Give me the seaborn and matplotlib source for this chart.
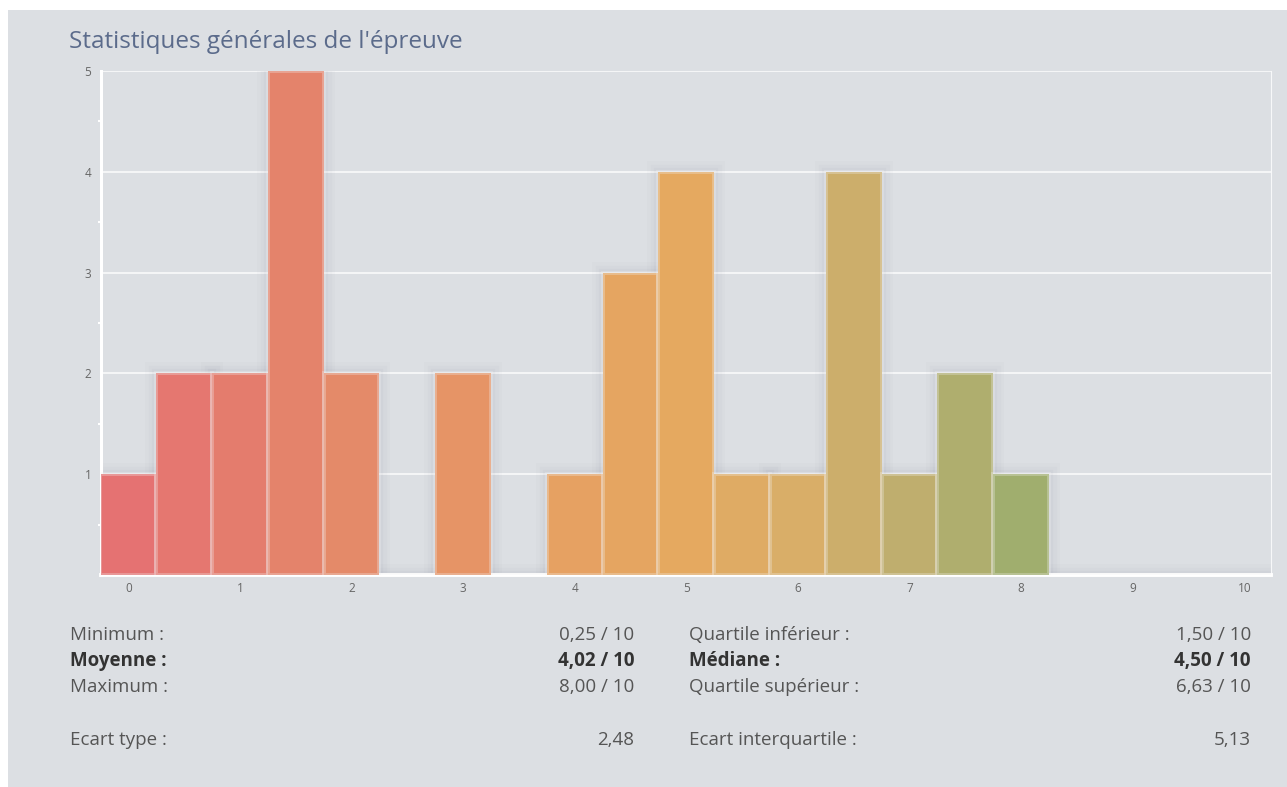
import matplotlib
matplotlib.use("Agg")
import matplotlib.pyplot as plt
from matplotlib.colors import LinearSegmentedColormap
from matplotlib.patches import Rectangle
import numpy as np
import pandas as pd
import seaborn as sns

# Score bins (half-point steps) and number of students per bin
notes = [0, 0.5, 1, 1.5, 2, 2.5, 3, 3.5, 4, 4.5, 5, 5.5, 6, 6.5, 7, 7.5, 8, 8.5, 9, 9.5, 10]
effectifs = [1, 2, 2, 5, 2, 0, 2, 0, 1, 3, 4, 1, 1, 4, 1, 2, 1, 0, 0, 0, 0]

x_ticks = [0, 1, 2, 3, 4, 5, 6, 7, 8, 9, 10]
y_ticks = [1, 2, 3, 4, 5]

titre = "Statistiques générales de l'épreuve"

# Summary statistics, left and right columns
stats_gauche = ["Minimum :", "Moyenne :", "Maximum :", "Ecart type :"]
valeurs_gauche = ["0,25 / 10", "4,02 / 10", "8,00 / 10", "2,48"]
stats_droite = ["Quartile inférieur :", "Médiane :", "Quartile supérieur :", "Ecart interquartile :"]
valeurs_droite = ["1,50 / 10", "4,50 / 10", "6,63 / 10", "5,13"]
ligne_grasse = [False, True, False, False]

W, H = 1287, 787
BG = "#dcdfe3"

sns.set_theme(style="white")
plt.rcParams["font.family"] = ["Open Sans", "DejaVu Sans"]

fig = plt.figure(figsize=(W / 100, H / 100), dpi=100, facecolor=BG)


def fx(px):
    return px / W


def fy(py):
    return 1 - py / H


# thin white page margin on the top and left edges
fig.patches.append(Rectangle((0, fy(10)), 1, 10 / H, transform=fig.transFigure,
                             facecolor="white", edgecolor="none", zorder=-5))
fig.patches.append(Rectangle((0, 0), 8 / W, 1, transform=fig.transFigure,
                             facecolor="white", edgecolor="none", zorder=-5))

ax = fig.add_axes([fx(101), fy(575), fx(1271) - fx(101), fy(71) - fy(575)])
ax.set_facecolor(BG)

# Red -> orange -> green gradient following the score
grad = LinearSegmentedColormap.from_list("notes", [
    (0.0, "#e57272"), (0.1, "#e47c6d"), (0.2, "#e48a69"), (0.3, "#e69466"),
    (0.4, "#e6a162"), (0.5, "#e5a960"), (0.6, "#d9ae68"), (0.7, "#c0ae6e"),
    (0.8, "#a0ae6e"), (1.0, "#72a86a")])

df = pd.DataFrame({"note": notes, "effectif": effectifs})

# Soft halo behind the bars
for lw, a in [(16, 0.016), (11, 0.02), (6, 0.026)]:
    ax.bar(df["note"], df["effectif"], width=0.5, color="none",
           edgecolor=(0.2, 0.2, 0.3, a), linewidth=lw, zorder=1)

sns.barplot(data=df, x="note", y="effectif", native_scale=True, width=1.0,
            errorbar=None, ax=ax, zorder=3)
for p in ax.patches:
    if p.get_zorder() != 3:
        continue
    centre = p.get_x() + p.get_width() / 2
    p.set_facecolor(grad(centre / 10))
    p.set_edgecolor((0.95, 0.95, 0.95, 0.3))
    p.set_linewidth(2.8)

ax.set_xlim(-0.245, 10.24)
ax.set_ylim(0, 5)
ax.set_xticks(x_ticks)
ax.set_xticklabels([str(t) for t in x_ticks])
ax.set_yticks(y_ticks)
ax.set_yticklabels([str(t) for t in y_ticks])
ax.set_yticks(np.arange(0.5, 5, 1.0), minor=True)
ax.set_xlabel("")
ax.set_ylabel("")

ax.grid(axis="y", color="white", linewidth=1.1, alpha=0.9)
ax.grid(axis="x", visible=False)
ax.set_axisbelow(True)

ax.tick_params(axis="x", length=0, pad=5, labelsize=8.5, labelcolor="#666666")
ax.tick_params(axis="y", which="major", length=3, width=1.5, color="white",
               pad=4, labelsize=8.5, labelcolor="#666666")
ax.tick_params(axis="y", which="minor", length=2, width=1.5, color="white", left=True)

ax.spines["top"].set_visible(False)
ax.spines["left"].set_color("white")
ax.spines["left"].set_linewidth(2.2)
ax.spines["bottom"].set_color("white")
ax.spines["bottom"].set_linewidth(2.8)
ax.spines["right"].set_color("white")
ax.spines["right"].set_linewidth(0.8)
ax.spines["right"].set_alpha(0.8)

fig.text(fx(69), fy(42), titre, fontsize=17.5, color="#5b6b8b", va="center", ha="left")

rangs_y = [635, 661, 687, 740]
for i, y in enumerate(rangs_y):
    poids = "bold" if ligne_grasse[i] else "normal"
    coul = "#333333" if ligne_grasse[i] else "#555555"
    fig.text(fx(70), fy(y), stats_gauche[i], fontsize=13.5, fontweight=poids,
             color=coul, va="center", ha="left")
    fig.text(fx(634), fy(y), valeurs_gauche[i], fontsize=13.5, fontweight=poids,
             color=coul, va="center", ha="right")
    fig.text(fx(689), fy(y), stats_droite[i], fontsize=13.5, fontweight=poids,
             color=coul, va="center", ha="left")
    fig.text(fx(1251), fy(y), valeurs_droite[i], fontsize=13.5, fontweight=poids,
             color=coul, va="center", ha="right")

fig.savefig("out.png", dpi=100, facecolor=BG)
